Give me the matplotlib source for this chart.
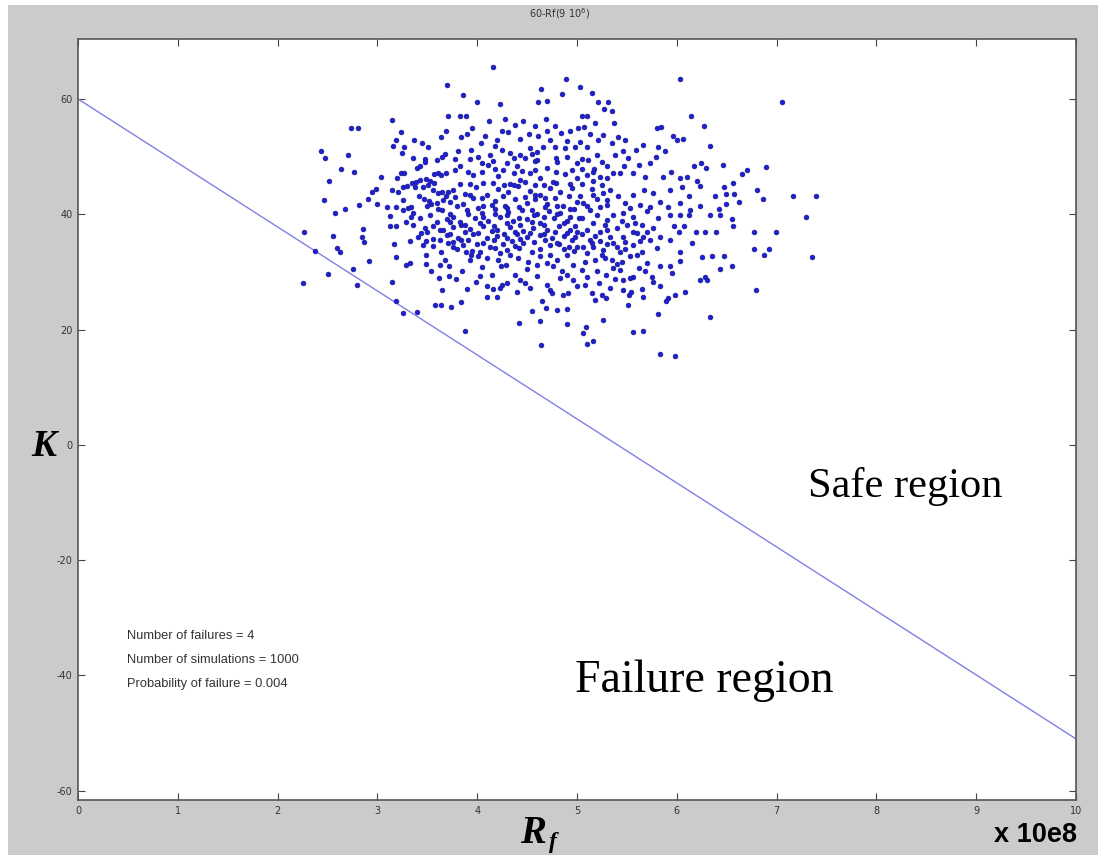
import matplotlib
matplotlib.use("Agg")
import matplotlib.pyplot as plt
from matplotlib.patches import Rectangle

plt.rcParams["axes.unicode_minus"] = False

# Monte Carlo samples: Rf (x 10e8) and K, grouped by zone of the cloud
rf_a = [3.70, 3.15, 2.74, 2.81, 2.43, 2.47, 2.71, 2.64, 2.77, 2.52,
        2.46, 2.68, 2.82, 2.91, 3.00, 3.10, 3.24, 3.19, 3.16, 3.27,
        3.37, 3.45, 3.51, 3.25, 3.36, 3.40, 3.43, 3.48, 3.48, 3.60,
        3.65, 3.68, 3.64, 3.69, 3.71, 3.04, 3.20, 3.24, 3.27, 3.15,
        3.21, 3.26, 3.30, 3.35, 3.39, 3.43, 3.49, 3.53, 3.57, 3.57,
        3.61, 3.64, 3.38, 3.42, 3.47, 3.52, 3.54, 3.60, 3.66, 3.69,
        3.71, 2.99, 2.95, 3.26, 3.34, 3.19, 3.46, 3.51, 3.56, 3.61,
        3.65]
k_a = [62.4, 56.4, 55.0, 55.0, 50.9, 49.8, 50.3, 47.8, 47.3, 45.8,
       42.4, 40.9, 41.6, 42.7, 41.8, 41.3, 54.2, 52.8, 51.9, 51.7,
       52.8, 52.4, 51.7, 50.6, 49.8, 48.1, 48.4, 49.5, 49.0, 49.4,
       50.0, 50.4, 53.4, 54.5, 57.1, 46.4, 46.3, 47.1, 47.1, 44.2,
       43.8, 44.8, 44.9, 45.4, 45.6, 46.0, 46.2, 45.8, 45.4, 47.0,
       47.1, 46.8, 44.7, 43.1, 42.7, 42.3, 41.8, 41.9, 42.4, 43.1,
       43.9, 44.3, 43.8, 42.4, 41.3, 41.3, 44.8, 45.0, 44.2, 43.7,
       43.8]

rf_b = [4.16, 3.86, 4.00, 4.23, 4.64, 4.89, 5.03, 5.15, 4.85, 4.61,
        4.70, 5.21, 5.27, 3.83, 3.89, 4.12, 4.28, 4.46, 4.69, 4.58,
        4.78, 3.84, 4.08, 4.25, 4.31, 4.43, 4.61, 4.73, 4.84, 4.93,
        5.01, 5.05, 5.10, 5.07, 5.13, 5.26, 5.21, 5.03, 5.10, 4.98,
        4.88, 4.78, 4.66, 4.53, 4.43, 4.48, 4.33, 4.25, 4.04, 3.94,
        3.81, 4.01, 4.13, 4.11, 3.83, 3.91, 3.69, 4.30, 4.40, 4.60,
        4.70, 4.80, 4.90, 5.00, 5.11, 5.20, 5.30, 5.23, 5.10, 5.00,
        4.88, 4.76, 4.63, 4.53, 4.43, 4.33, 4.21, 4.06, 3.96, 3.83,
        3.76, 3.88, 3.99, 4.10, 4.21, 4.31, 4.41, 4.53, 4.63, 4.73,
        4.83, 4.95, 5.03, 5.15, 5.26, 3.73, 3.86, 3.96, 4.06, 4.18,
        4.28, 4.38, 4.50, 4.58, 4.70, 4.78, 4.86, 5.00, 5.10, 5.20,
        5.30, 4.45, 4.95, 4.18, 4.67, 4.27, 4.93, 3.78, 4.55, 5.17,
        4.05]
k_b = [65.6, 60.6, 59.4, 59.1, 61.7, 63.5, 62.1, 61.1, 60.8, 59.5,
       59.7, 59.5, 58.2, 57.1, 57.1, 56.1, 56.5, 56.2, 56.5, 55.3,
       55.3, 53.4, 53.5, 54.4, 54.2, 53.1, 53.6, 52.9, 54.1, 54.5,
       54.9, 57.1, 57.1, 55.2, 53.9, 53.8, 52.9, 52.6, 51.7, 51.7,
       51.5, 51.7, 51.7, 51.5, 50.3, 49.7, 50.6, 51.2, 52.3, 51.2,
       50.9, 50.0, 50.3, 48.6, 48.3, 47.4, 47.1, 48.9, 48.3, 49.4,
       48.0, 49.1, 50.0, 48.9, 49.4, 50.3, 48.3, 46.5, 46.8, 46.3,
       46.9, 45.6, 46.3, 47.2, 45.9, 45.2, 46.6, 45.5, 46.8, 45.3,
       44.2, 43.6, 44.7, 43.3, 44.4, 43.8, 44.9, 44.0, 43.4, 44.6,
       43.9, 44.5, 43.2, 44.3, 43.7, 42.2, 41.7, 42.8, 41.4, 42.3,
       41.5, 42.7, 41.9, 42.6, 41.7, 42.9, 41.4, 42.2, 41.5, 42.6,
       41.6, 47.5, 47.6, 47.8, 45.1, 45.0, 45.3, 49.5, 50.5, 47.9,
       48.9]

rf_c = [6.03, 5.31, 5.35, 5.37, 6.14, 6.27, 5.80, 5.84, 5.96, 6.00,
        6.06, 5.41, 5.48, 5.35, 5.66, 5.59, 5.46, 5.38, 5.81, 5.88,
        5.79, 6.33, 5.51, 5.73, 5.62, 6.17, 6.24, 6.29, 6.46, 5.94,
        6.03, 6.10, 6.20, 6.23, 5.86, 5.68, 5.56, 5.47, 5.43, 5.36,
        5.30, 6.56, 6.65, 6.70, 6.47, 6.57, 6.38, 6.49, 6.05, 5.93,
        6.12, 6.23, 6.03, 5.83, 5.73, 5.76, 5.67, 5.56, 5.48, 5.41,
        5.33, 5.30, 6.42, 6.62, 6.80, 7.05, 6.89, 6.86, 7.16, 7.39,
        7.29, 6.99, 6.87, 6.92, 7.35]
k_c = [63.4, 59.5, 57.9, 55.8, 57.1, 55.3, 55.0, 55.1, 53.5, 52.9,
       53.1, 53.4, 52.9, 52.4, 52.0, 51.2, 50.9, 50.3, 51.7, 51.0,
       49.9, 51.9, 49.7, 48.9, 48.6, 48.3, 48.9, 48.0, 48.6, 47.3,
       46.3, 46.5, 45.8, 44.9, 46.5, 46.5, 47.1, 48.3, 47.1, 47.1,
       46.3, 45.5, 47.0, 47.6, 44.7, 43.5, 43.1, 43.5, 44.7, 44.2,
       43.1, 41.5, 41.9, 42.2, 41.3, 43.7, 44.2, 43.4, 41.9, 43.1,
       44.2, 42.5, 40.9, 42.2, 44.2, 59.4, 48.2, 42.7, 43.2, 43.2,
       39.5, 37.0, 33.0, 33.9, 32.6]

rf_d = [6.77, 6.77, 6.79, 6.33, 6.55, 6.43, 6.47, 6.35, 6.25, 6.28,
        6.23, 6.30, 6.39, 6.28, 6.19, 6.56, 6.55, 6.43, 6.33, 6.49,
        6.15, 6.03, 6.03, 6.08, 5.98, 5.91, 5.89, 5.83, 5.81, 5.83,
        5.98, 5.66, 5.56, 5.26, 5.16, 5.10, 5.09, 5.06, 5.51, 5.52,
        5.54, 5.66, 5.65, 5.46, 5.33, 5.29, 5.25, 5.18, 5.15, 5.93,
        5.95, 5.83, 5.75, 5.76, 5.68, 5.70, 5.56, 5.53, 5.46, 5.43,
        5.45, 5.36, 5.29, 5.20, 5.10, 5.08, 5.80, 5.65, 5.56, 5.73,
        5.83, 5.93, 6.02, 5.97, 6.07, 6.03, 5.93, 5.81, 5.91, 6.13,
        6.12, 5.70, 5.65, 5.56, 5.46, 5.36, 5.26, 5.16, 5.10, 5.08,
        5.18, 5.28, 5.35, 5.43, 5.53, 5.06, 5.13, 5.23, 5.53, 5.63,
        5.36, 5.46, 5.56, 5.30, 5.16, 5.10, 5.23, 5.40, 5.50, 5.60,
        5.70, 5.13, 5.23, 5.33, 5.63, 5.06, 5.40, 5.76]
k_d = [36.9, 34.0, 26.8, 22.2, 31.1, 30.5, 32.7, 32.7, 32.6, 29.2,
       28.6, 28.6, 37.0, 36.9, 37.0, 38.0, 39.2, 39.9, 39.9, 41.8,
       35.0, 33.5, 31.9, 26.6, 26.0, 25.5, 25.0, 27.5, 22.7, 15.8,
       15.5, 19.7, 19.5, 21.6, 18.0, 17.5, 20.5, 19.4, 24.3, 26.0,
       26.6, 25.7, 27.0, 26.9, 27.2, 25.5, 26.0, 25.2, 26.3, 31.0,
       29.8, 31.0, 29.2, 28.3, 30.1, 31.5, 29.2, 28.9, 28.6, 30.4,
       31.8, 30.7, 29.5, 30.1, 29.2, 27.8, 34.1, 33.5, 34.7, 35.6,
       36.1, 35.6, 37.0, 37.9, 37.9, 39.9, 39.9, 39.3, 41.3, 40.8,
       39.9, 40.5, 38.2, 37.0, 36.1, 35.0, 33.8, 34.4, 33.3, 31.8,
       32.1, 32.4, 32.1, 33.5, 32.7, 42.0, 40.8, 41.3, 41.1, 41.6,
       39.9, 40.2, 39.6, 39.0, 38.5, 37.3, 37.0, 37.6, 38.2, 36.7,
       37.0, 35.6, 35.3, 36.1, 35.3, 34.4, 34.4, 37.6]

rf_e = [4.64, 4.42, 4.63, 4.90, 3.88, 3.26, 3.40, 3.58, 3.64, 3.74,
        3.84, 4.55, 4.69, 4.80, 4.90, 4.10, 4.20, 3.99, 4.10, 4.16,
        4.23, 4.25, 4.03, 3.79, 3.72, 3.62, 3.54, 3.33, 3.29, 3.49,
        3.63, 3.68, 3.49, 3.33, 3.46, 3.49, 3.56, 3.44, 3.34, 3.26,
        3.48, 3.63, 3.73, 3.84, 3.84, 3.76, 3.64, 3.89, 3.94, 4.03,
        3.93, 4.01, 4.10, 4.23, 4.21, 4.24, 4.29, 4.38, 4.43, 4.48,
        4.53, 4.33, 4.41, 4.51, 4.60, 4.70, 4.76, 4.85, 4.83, 4.90,
        4.70, 4.73, 4.75, 4.86, 4.91, 5.00, 4.96, 4.65, 4.55, 4.63,
        4.73, 4.80, 4.90, 4.96, 5.00]
k_e = [17.4, 21.1, 21.4, 21.0, 19.8, 22.9, 23.1, 24.3, 24.3, 23.9,
       24.7, 23.3, 23.7, 23.4, 23.5, 25.6, 25.7, 28.2, 27.6, 27.0,
       27.2, 27.8, 29.3, 28.8, 29.3, 28.9, 30.2, 31.5, 31.2, 31.4,
       31.2, 32.0, 33.0, 35.4, 34.7, 35.4, 35.7, 36.7, 39.6, 40.8,
       37.6, 37.3, 38.7, 38.2, 35.6, 34.4, 33.5, 33.5, 33.0, 33.5,
       32.1, 32.7, 32.4, 33.3, 32.1, 31.0, 31.2, 29.5, 28.6, 28.1,
       27.2, 33.0, 32.4, 31.8, 31.2, 31.5, 31.0, 30.1, 28.9, 29.5,
       27.8, 26.9, 26.3, 26.0, 26.3, 27.5, 28.6, 24.9, 33.5, 32.7,
       33.0, 32.1, 33.0, 31.2, 34.4]

rf_f = [3.36, 3.61, 3.73, 3.90, 4.05, 4.18, 4.31, 4.45, 4.60, 4.72,
        4.83, 4.97, 3.29, 3.43, 3.70, 3.83, 3.98, 4.11, 4.23, 4.36,
        4.50, 4.63, 4.77, 4.90, 5.02, 3.56, 3.66, 3.76, 3.93, 4.06,
        4.20, 4.33, 4.46, 4.56, 4.70, 4.82, 4.93, 3.41, 3.70, 3.81,
        3.96, 4.10, 4.20, 4.30, 4.40, 4.50, 4.63, 4.75, 4.87, 4.98,
        3.56, 3.71, 3.86, 4.00, 4.13, 4.26, 4.38, 4.46, 4.73, 4.82,
        4.92]
k_f = [40.3, 40.9, 40.1, 40.7, 40.2, 40.9, 40.4, 40.8, 40.0, 40.6,
       40.2, 40.9, 38.7, 39.3, 39.1, 38.6, 39.4, 38.8, 39.5, 38.9,
       39.2, 38.5, 39.3, 38.8, 39.4, 37.9, 37.2, 37.8, 37.4, 37.9,
       37.3, 37.8, 37.1, 37.7, 37.3, 37.9, 37.2, 36.0, 36.4, 35.9,
       36.5, 35.8, 36.3, 35.9, 36.6, 36.0, 36.4, 35.8, 36.3, 36.0,
       34.5, 35.0, 34.6, 34.9, 34.3, 34.8, 34.5, 35.1, 34.6, 34.9,
       34.4]

rf_g = [2.26, 2.37, 2.25, 2.50, 2.56, 2.58, 2.60, 2.63, 2.76, 2.80,
        2.92, 2.86, 2.85, 2.87, 3.13, 3.13, 3.19, 3.17, 3.19, 3.15,
        3.19]
k_g = [36.9, 33.7, 28.1, 29.6, 36.3, 40.2, 34.1, 33.5, 30.5, 27.8,
       31.9, 37.4, 36.1, 35.2, 39.7, 38.0, 38.0, 34.8, 32.6, 28.2,
       24.9]

rf_h = [3.31, 3.50, 3.65, 3.80, 4.01, 4.15, 4.30, 4.42, 4.55, 4.68,
        4.80, 4.93, 3.53, 3.76, 3.91, 4.06, 4.18, 4.30, 4.42, 4.57,
        4.67, 4.80, 4.93, 3.36, 3.60, 3.88, 4.03, 4.17, 4.30, 4.43,
        4.55, 4.67, 4.87, 4.98, 3.50, 3.73, 3.88, 4.01, 4.15, 4.27,
        4.38, 4.53, 4.67, 4.78, 4.90, 5.00, 3.63, 3.76, 3.91, 4.06,
        4.17, 4.35, 4.43, 4.57, 4.68, 4.80, 4.95, 3.80, 3.95, 4.18,
        4.30, 4.42, 4.63, 4.87, 4.97]
k_h = [41.0, 41.5, 40.8, 41.4, 41.1, 41.6, 41.0, 41.3, 40.7, 41.2,
       41.5, 40.9, 39.9, 39.5, 40.0, 39.6, 40.1, 39.8, 39.4, 39.9,
       39.5, 40.0, 39.6, 38.1, 38.6, 38.2, 38.5, 38.0, 38.4, 38.1,
       38.6, 38.2, 38.4, 38.0, 36.9, 36.6, 37.0, 36.7, 37.1, 36.6,
       37.0, 36.8, 36.5, 37.0, 36.7, 36.9, 35.6, 35.2, 35.5, 35.1,
       35.6, 35.3, 35.7, 35.2, 35.5, 35.1, 35.5, 34.0, 33.7, 34.1,
       33.8, 34.2, 33.9, 34.0, 33.6]

rf_i = [3.93, 4.16, 4.37, 4.58, 4.79, 5.05, 5.25, 3.78, 4.05, 4.26,
        4.37, 4.58, 4.79, 5.05, 5.16, 3.93, 4.16, 4.37, 4.48, 4.58,
        4.79, 5.05, 5.16, 5.25, 3.78, 3.93, 4.05, 4.26, 4.48, 4.58,
        4.68, 4.92, 5.16, 5.05, 5.20, 5.28, 5.45, 5.58, 5.05, 5.18,
        5.30, 5.48, 5.66, 5.15, 5.30, 5.48, 5.25, 5.40, 5.60, 5.05,
        5.38, 5.62, 5.22, 3.95, 4.20, 4.38, 4.52, 4.90, 4.18, 4.60,
        3.90, 5.18, 4.70, 3.72, 3.85, 4.05, 4.15, 4.30, 3.90, 4.40,
        4.60, 4.50, 3.65]
k_i = [49.6, 49.3, 49.8, 49.2, 49.7, 49.5, 49.1, 47.6, 47.3, 47.7,
       47.2, 47.6, 47.4, 47.8, 47.3, 45.2, 45.5, 45.0, 45.6, 45.1,
       45.4, 45.2, 45.7, 45.0, 43.0, 43.3, 42.9, 43.2, 43.0, 43.4,
       42.9, 43.1, 43.3, 39.4, 39.8, 38.1, 38.9, 38.4, 36.6, 36.2,
       37.2, 35.2, 36.0, 35.0, 34.8, 34.0, 33.0, 31.3, 33.0, 30.3,
       28.8, 30.6, 28.0, 55.0, 52.8, 55.5, 53.9, 52.7, 51.8, 50.8,
       53.9, 55.8, 54.5, 31.0, 30.2, 30.8, 29.5, 28.0, 27.0, 26.5,
       29.3, 30.5, 26.8]

rf = rf_a + rf_b + rf_c + rf_d + rf_e + rf_f + rf_g + rf_h + rf_i
k = k_a + k_b + k_c + k_d + k_e + k_f + k_g + k_h + k_i

# limit-state line K = 60 - 11.1 Rf
limit_rf = [0, 10]
limit_k = [60, -51]

x_ticks = list(range(0, 11))
y_ticks = [-60, -40, -20, 0, 20, 40, 60]

summary = ["Number of failures = 4",
           "Number of simulations = 1000",
           "Probability of failure = 0.004"]
summary_k = [-33.1, -37.3, -41.4]

W, H = 1098, 858
fig = plt.figure(figsize=(W / 100, H / 100), dpi=100, facecolor="white")
fig.patches.append(Rectangle((8 / W, 3 / H), 1 - 8 / W, 1 - 8 / H,
                             transform=fig.transFigure, figure=fig,
                             facecolor="#cbcbcb", edgecolor="none", zorder=-10))

ax = fig.add_axes([78 / W, 1 - 800 / H, (1076 - 78) / W, (800 - 39) / H])
ax.set_facecolor("white")

ax.plot(limit_rf, limit_k, color="#8080e4", lw=1.0, zorder=2)
ax.plot(rf, k, linestyle="none", marker="o", markersize=3.4,
        markerfacecolor="#1f1fd6", markeredgecolor="#1a1a8c",
        markeredgewidth=0.5, zorder=3)

ax.set_xlim(0, 10)
ax.set_ylim(-61.6, 70.4)
ax.set_xticks(x_ticks)
ax.set_yticks(y_ticks)
ax.tick_params(direction="in", top=True, right=True, length=5, width=0.8,
               labelsize=7, colors="#444444", labelcolor="#333333", pad=4)
for sp in ax.spines.values():
    sp.set_color("#555555")
    sp.set_linewidth(1.2)

for txt, yk in zip(summary, summary_k):
    ax.text(0.49, yk, txt, fontsize=9.3, color="#333333", va="center",
            ha="left", family="Liberation Sans")

ax.text(7.31, -7.3, "Safe region", fontsize=30.5, family="Liberation Serif",
        va="center", ha="left", color="black")
ax.text(4.98, -41.0, "Failure region", fontsize=33, family="Liberation Serif",
        va="center", ha="left", color="black")

fig.text(560 / W, 1 - 14 / H, r"60-Rf(9 10$^6$)", fontsize=7, color="#333333",
         ha="center", va="center")
fig.text(44 / W, 1 - 446 / H, "K", fontsize=27, family="Liberation Serif",
         weight="bold", style="italic", ha="center", va="center")
fig.text(520 / W, 1 - 843 / H, "R", fontsize=28, family="Liberation Serif",
         weight="bold", style="italic", ha="left", va="baseline")
fig.text(549 / W, 1 - 848 / H, "f", fontsize=17, family="Liberation Serif",
         weight="bold", style="italic", ha="left", va="baseline")
fig.text(1077 / W, 1 - 835 / H, "x 10e8", fontsize=19.5, family="Liberation Sans",
         weight="bold", ha="right", va="center")

fig.savefig("out.png", dpi=100, facecolor=fig.get_facecolor())
